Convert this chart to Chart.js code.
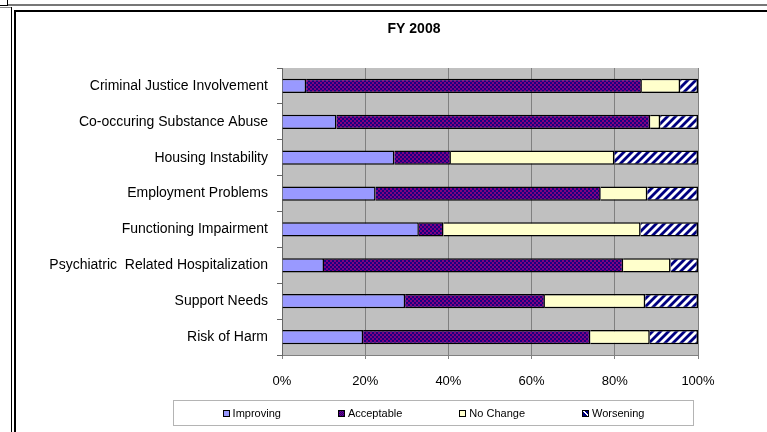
<!DOCTYPE html>
<html>
<head>
<meta charset="utf-8">
<script src="https://cdn.jsdelivr.net/npm/chart.js@4.4.0/dist/chart.umd.min.js"></script>
<style>
  html, body { margin: 0; padding: 0; background: #fff; font-family: "Liberation Sans", Arial, sans-serif; }
  #page { position: relative; width: 767px; height: 432px; overflow: hidden; }
  .ln { position: absolute; background: #000; }
  #inner { position: absolute; left: 14px; top: 10px; width: 800px; height: 422px; border-left: 2px solid #000; border-top: 2px solid #000; }
  #c { position: absolute; left: 16px; top: 12px; }
  #legend { position: absolute; left: 173px; top: 400px; width: 519px; height: 24px; border: 1px solid #b4b4b4; display: flex; justify-content: center; align-items: center; gap: 57px; font-size: 11px; color: #000; }
  .item { display: flex; align-items: center; }
  .sw { width: 5px; height: 5px; border: 1px solid #000; margin-right: 3px; }
</style>
</head>
<body>
<div id="page">
<div class="ln" style="left:0;top:5px;width:8px;height:1px"></div>
<div class="ln" style="left:7px;top:0;width:1px;height:5px"></div>
<div class="ln" style="left:8px;top:4px;width:759px;height:2px;background:#777"></div>
<div class="ln" style="left:0;top:7px;width:11px;height:1px;background:#888"></div>
<div class="ln" style="left:11px;top:7px;width:1px;height:425px"></div>
<div id="inner"></div>
<canvas id="c" width="720" height="420"></canvas>
<div id="legend"></div>
</div>
<script>
const categories = [
  'Criminal Justice Involvement',
  'Co-occuring Substance Abuse',
  'Housing Instability',
  'Employment Problems',
  'Functioning Impairment',
  'Psychiatric  Related Hospitalization',
  'Support Needs',
  'Risk of Harm'
];
const improving  = [5.8, 13.1, 27.0, 22.5, 32.9, 10.1, 29.6, 19.5];
const acceptable = [80.7, 75.4, 13.6, 54.1, 5.9, 71.9, 33.6, 54.6];
const noChange   = [9.2, 2.4, 39.3, 11.2, 47.4, 11.4, 24.1, 14.3];
const worsening  = [4.3, 9.1, 20.1, 12.2, 13.8, 6.6, 12.7, 11.6];
const xTicks = [0, 20, 40, 60, 80, 100];
const chartTitle = 'FY 2008';

const canvas = document.getElementById('c');
const ctx = canvas.getContext('2d');

// purple / navy checker like the excel fill
const checker = () => {
  const t = document.createElement('canvas');
  t.width = 4; t.height = 4;
  const g = t.getContext('2d');
  g.fillStyle = '#800080';
  g.fillRect(0, 0, 4, 4);
  g.fillStyle = '#1a0080';
  g.fillRect(0, 0, 2, 2);
  g.fillRect(2, 2, 2, 2);
  return ctx.createPattern(t, 'repeat');
};

// navy with white "/" stripes
const stripes = () => {
  const t = document.createElement('canvas');
  t.width = 8; t.height = 8;
  const g = t.getContext('2d');
  g.fillStyle = '#000080';
  g.fillRect(0, 0, 8, 8);
  g.strokeStyle = '#fff';
  g.lineWidth = 2.8;
  [[-4, 4, 4, -4], [0, 8, 8, 0], [4, 12, 12, 4]].forEach(([a, b, c, d]) => {
    g.beginPath(); g.moveTo(a, b); g.lineTo(c, d); g.stroke();
  });
  return ctx.createPattern(t, 'repeat');
};

const plotBg = {
  id: 'plotBg',
  beforeDraw(chart) {
    const a = chart.chartArea;
    chart.ctx.save();
    chart.ctx.fillStyle = '#c0c0c0';
    chart.ctx.fillRect(a.left, a.top, a.right - a.left, a.bottom - a.top);
    chart.ctx.restore();
  }
};

// title sits off-centre in the original, so draw it by hand
const titleText = {
  id: 'titleText',
  afterDraw(chart) {
    const c = chart.ctx;
    c.save();
    c.font = 'bold 14px "Liberation Sans", Arial';
    c.fillStyle = '#000';
    c.textAlign = 'center';
    c.textBaseline = 'middle';
    c.fillText(chartTitle, 398, 17);
    c.restore();
  }
};

const chart = new Chart(ctx, {
  type: 'bar',
  data: {
    labels: categories,
    datasets: [
      { label: 'Improving', data: improving, backgroundColor: '#9999ff' },
      { label: 'Acceptable', data: acceptable, backgroundColor: checker() },
      { label: 'No Change', data: noChange, backgroundColor: '#ffffcc' },
      { label: 'Worsening', data: worsening, backgroundColor: stripes() }
    ]
  },
  options: {
    indexAxis: 'y',
    responsive: false,
    devicePixelRatio: 1,
    animation: false,
    layout: { padding: { top: 56, right: 38, bottom: 37, left: 0 } },
    datasets: {
      bar: { borderColor: '#000', borderWidth: 1.5, barPercentage: 0.4, categoryPercentage: 1 }
    },
    plugins: {
      legend: { display: false },
      tooltip: { enabled: false },
      title: { display: false }
    },
    scales: {
      x: {
        stacked: true,
        min: 0,
        max: 100,
        afterBuildTicks: (scale) => { scale.ticks = xTicks.map(v => ({ value: v })); },
        afterFit: (scale) => { scale.height = 40; },
        ticks: {
          callback: (v) => v + '%',
          color: '#000',
          padding: 15,
          maxRotation: 0,
          font: { family: '"Liberation Sans", Arial', size: 13 }
        },
        grid: { color: '#808080', tickLength: 4, drawTicks: true },
        border: { color: '#808080' }
      },
      y: {
        stacked: true,
        afterFit: (scale) => { scale.width = 266; },
        ticks: {
          color: '#000',
          padding: 9,
          font: { family: '"Liberation Sans", Arial', size: 14 }
        },
        grid: { drawOnChartArea: false, color: '#666', tickLength: 5, offset: true },
        border: { color: '#666' }
      }
    }
  },
  plugins: [plotBg, titleText]
});

// html legend from the datasets
const swatch = ['#9999ff', 'repeating-conic-gradient(#800080 0 25%, #1a0080 0 50%) 0 0/2px 2px', '#ffffcc', 'linear-gradient(45deg, #000080 45%, #fff 45%, #fff 60%, #000080 60%)'];
const legend = document.getElementById('legend');
chart.data.datasets.forEach((ds, i) => {
  const item = document.createElement('div');
  item.className = 'item';
  const sw = document.createElement('span');
  sw.className = 'sw';
  sw.style.background = swatch[i];
  item.appendChild(sw);
  item.appendChild(document.createTextNode(ds.label));
  legend.appendChild(item);
});
</script>
</body>
</html>
